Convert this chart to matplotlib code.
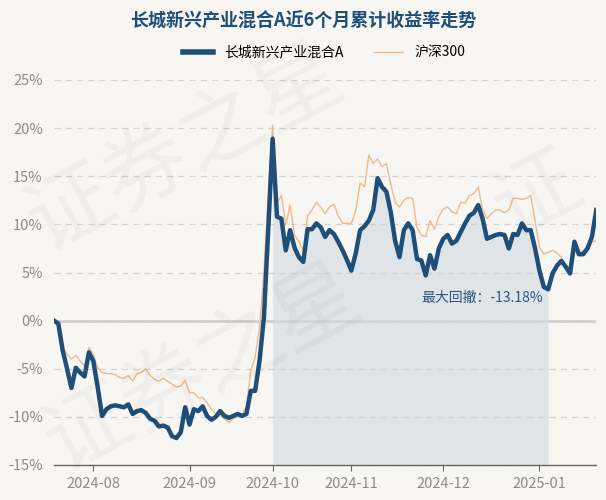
import numpy as np
import pandas as pd
import matplotlib.pyplot as plt

plt.rcParams['font.family'] = ['Noto Sans CJK SC', 'DejaVu Sans']
plt.rcParams['axes.unicode_minus'] = False

# trading days shown on the chart (China A-share calendar)
holidays = ['2024-09-16', '2024-09-17', '2024-10-01', '2024-10-02', '2024-10-03',
            '2024-10-04', '2024-10-07', '2025-01-01']
dates = pd.bdate_range('2024-07-19', '2025-01-21')
dates = dates[~dates.isin(pd.to_datetime(holidays))]

fund_name = '长城新兴产业混合A'
index_name = '沪深300'
max_drawdown = -13.18

# cumulative return, %
fund = [0.0, -0.3, -3.1, -5.0, -7.0, -4.9, -5.4, -5.8, -3.3, -4.2,
        -6.9, -9.9, -9.2, -8.9, -8.8, -8.9, -9.0, -8.7, -9.7, -9.4,
        -9.3, -9.6, -10.2, -10.4, -11.0, -10.9, -11.1, -12.0, -12.2, -11.6,
        -9.0, -10.8, -9.2, -9.4, -8.9, -9.9, -10.3, -10.0, -9.4, -9.9,
        -10.1, -9.9, -9.7, -9.9, -9.7, -7.3, -7.3, -4.2, 0.3, 9.5,
        18.9, 10.8, 10.6, 7.3, 9.4, 7.6, 6.6, 6.1, 9.5, 9.5,
        10.1, 9.7, 8.7, 9.4, 9.0, 8.2, 7.3, 6.3, 5.2, 7.0,
        9.4, 9.8, 10.4, 11.5, 14.8, 13.9, 13.4, 11.3, 8.3, 6.6,
        9.4, 10.1, 9.4, 6.4, 6.25, 4.7, 6.8, 5.4, 7.5, 8.5,
        8.9, 8.0, 8.3, 9.2, 10.1, 10.9, 11.2, 12.0, 10.6, 8.5,
        8.7, 8.9, 9.0, 8.9, 7.5, 9.0, 8.9, 10.1, 9.4, 9.4,
        7.5, 5.2, 3.5, 3.25, 4.9, 5.7, 6.2, 5.6, 4.9, 8.2,
        6.9, 6.9, 7.5, 8.7, 11.5]

hs300 = [0.0, -0.3, -2.8, -3.5, -4.0, -3.6, -4.2, -4.7, -2.8, -3.5,
         -4.9, -5.4, -5.5, -5.5, -5.6, -5.9, -6.0, -5.7, -6.3, -5.5,
         -5.4, -5.0, -5.7, -6.1, -6.3, -6.0, -6.3, -6.6, -6.9, -6.8,
         -6.2, -7.5, -7.5, -8.0, -8.0, -8.5, -9.2, -9.7, -9.9, -10.2,
         -10.6, -10.2, -9.8, -9.7, -9.0, -5.2, -3.8, -0.7, 5.0, 13.0,
         20.3, 12.2, 13.0, 9.9, 12.0, 8.9, 8.2, 7.3, 10.9, 11.5,
         12.3, 11.8, 11.1, 11.8, 12.1, 10.9, 10.1, 10.1, 10.1, 11.4,
         14.3, 13.9, 17.2, 16.3, 16.8, 16.0, 16.3, 14.2, 12.3, 11.8,
         12.5, 12.8, 12.7, 9.7, 8.9, 8.7, 10.4, 9.5, 10.8, 11.6,
         11.8, 11.3, 11.1, 12.3, 12.2, 13.0, 13.2, 13.9, 11.6, 10.6,
         11.1, 11.5, 11.5, 11.2, 11.5, 12.7, 12.7, 12.6, 12.7, 13.0,
         10.4, 7.6, 6.9, 7.1, 7.3, 7.0, 6.6, 5.7, 5.4, 7.8,
         7.1, 7.3, 7.6, 8.2, 8.3]

yticks = [-15, -10, -5, 0, 5, 10, 15, 20, 25]

bg = '#f8f6f2'
blue = '#1f4e79'
orange = '#f0b98c'

x = np.arange(len(fund))
fund_arr = np.array(fund)

# max drawdown window: trough, and the peak before it
cummax = np.maximum.accumulate(1 + fund_arr / 100)
dd = (1 + fund_arr / 100) / cummax - 1
trough = int(np.argmin(dd))
peak = int(np.argmax(fund_arr[:trough + 1]))

fig = plt.figure(figsize=(6.06, 5.0), dpi=100, facecolor=bg)
ax = fig.add_axes([0.089, 0.07, 0.895, 0.77])
ax.set_facecolor(bg)

# faint watermark
for tx, ty, txt in [(0.02, 0.50, '证券之星'), (0.05, 0.06, '证券之星'), (0.79, 0.53, '证')]:
    fig.text(tx, ty, txt, fontsize=62, color='#000000', alpha=0.035,
             rotation=28, zorder=0)

ax.set_ylim(-15, 25)
ax.set_xlim(0, len(fund) - 1)
ax.set_yticks(yticks)
ax.set_yticklabels([f'{v}%' for v in yticks])
ax.grid(axis='y', color='#d2d2d2', linestyle=(0, (5, 4)), linewidth=0.9)
ax.axhline(0, color='#cfcfcf', linewidth=2, zorder=1)

ax.fill_between(x[peak:trough + 1], fund_arr[peak:trough + 1], -15,
                color='#d3dbe2', alpha=0.65, linewidth=0, zorder=1)

ax.plot(x, hs300, color=orange, linewidth=1.0, label=index_name, zorder=2)
ax.plot(x, fund, color=blue, linewidth=3.2, label=fund_name, zorder=3,
        solid_joinstyle='round')

ax.annotate(f'最大回撤：{max_drawdown:.2f}%', xy=(trough, 2.4), xytext=(-4, 0),
            textcoords='offset points', ha='right', va='center',
            fontsize=10, color='#2d5582')

# month ticks at first trading day of each month
months = pd.Series(dates.strftime('%Y-%m'))
first = months.drop_duplicates().iloc[1:]
ax.set_xticks(first.index)
ax.set_xticklabels(first.values)

for s in ['top', 'right', 'left']:
    ax.spines[s].set_visible(False)
ax.spines['bottom'].set_color('#666666')
ax.spines['bottom'].set_linewidth(1)
ax.tick_params(axis='y', length=0, pad=8, labelsize=10.5, labelcolor='#8c8c8c')
ax.tick_params(axis='x', length=4, color='#666666', pad=5, labelsize=10.5,
               labelcolor='#8c8c8c')

fig.text(0.5, 0.957, '长城新兴产业混合A近6个月累计收益率走势', ha='center', va='center',
         fontsize=13, fontweight='bold', color=blue)

handles, labels = ax.get_legend_handles_labels()
leg = fig.legend(handles[::-1], labels[::-1], loc='center', bbox_to_anchor=(0.535, 0.895),
                 ncol=2, frameon=False, fontsize=10, handlelength=2.1,
                 columnspacing=2.2, handletextpad=0.8)
leg.get_lines()[0].set_linewidth(4)

fig.savefig('out.png', dpi=100, facecolor=bg)
